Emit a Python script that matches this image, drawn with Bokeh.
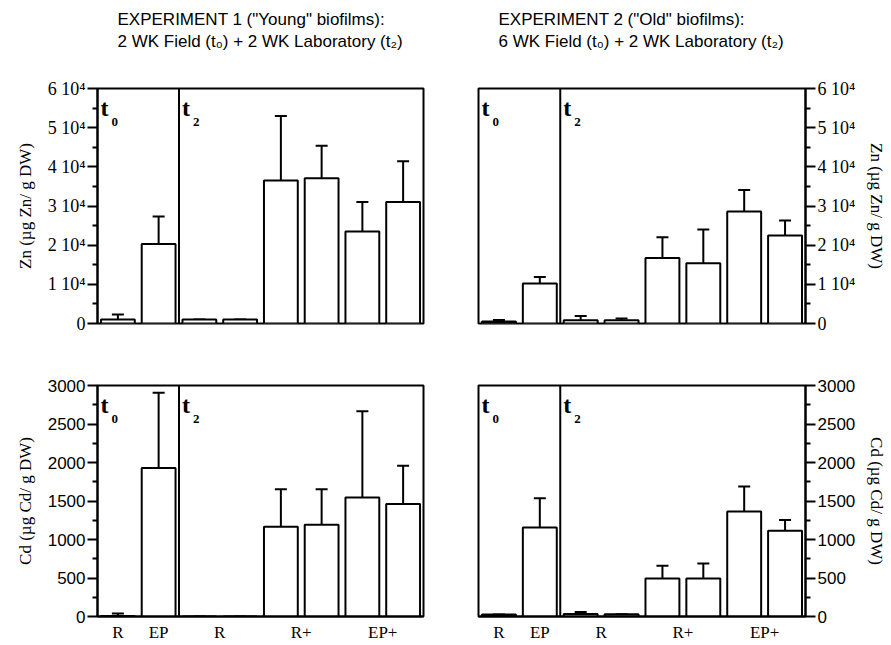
from bokeh.plotting import figure
from bokeh.models import ColumnDataSource, FixedTicker, Whisker, TeeHead, Span, Label, Title
from bokeh.layouts import column, row
from bokeh.embed import file_html
from bokeh.resources import INLINE

# ---- data ----
positions = [0.5, 1.5, 2.5, 3.5, 4.5, 5.5, 6.5, 7.5]
x_tick_pos = [0.5, 1.5, 3, 5, 7]
x_tick_labels = ["R", "EP", "R", "R+", "EP+"]

zn_exp1 = [1000, 20300, 1000, 1000, 36500, 37100, 23500, 31000]
zn_exp1_hi = [2300, 27300, 1000, 1000, 53000, 45400, 31000, 41400]
zn_exp2 = [500, 10200, 800, 800, 16700, 15400, 28600, 22500]
zn_exp2_hi = [900, 11900, 1900, 1300, 22000, 24000, 34100, 26300]
cd_exp1 = [5, 1930, 0, 0, 1166, 1191, 1544, 1460]
cd_exp1_hi = [40, 2907, 0, 0, 1653, 1653, 2664, 1959]
cd_exp2 = [25, 1156, 34, 30, 494, 494, 1363, 1114]
cd_exp2_hi = [25, 1536, 59, 30, 658, 688, 1688, 1253]

zn_ticks = [0, 10000, 20000, 30000, 40000, 50000, 60000]
zn_tick_labels = ["0", "1 10\u2074", "2 10\u2074", "3 10\u2074", "4 10\u2074", "5 10\u2074", "6 10\u2074"]
zn_minor = [5000, 15000, 25000, 35000, 45000, 55000]
cd_ticks = [0, 500, 1000, 1500, 2000, 2500, 3000]
cd_tick_labels = ["0", "500", "1000", "1500", "2000", "2500", "3000"]
cd_minor = [250, 750, 1250, 1750, 2250, 2750]

titles = {
    "exp1": ["EXPERIMENT 1 (\"Young\" biofilms):", "2 WK Field (t\u2080) + 2 WK Laboratory (t\u2082)"],
    "exp2": ["EXPERIMENT 2 (\"Old\" biofilms):", "6 WK Field (t\u2080) + 2 WK Laboratory (t\u2082)"],
}
zn_label = "Zn (\u00b5g Zn/ g DW)"
cd_label = "Cd (\u00b5g Cd/ g DW)"

SERIF = "Liberation Serif"
SANS = "Liberation Sans"


def make_panel(vals, hi, side, ymax, ticks, tick_labels, minor, tick_font, tick_size, ylabel,
               show_x, width, height, borders, title_lines=None):
    p = figure(width=width, height=height, x_range=(0, 8), y_range=(0, ymax),
               output_backend="svg", toolbar_location=None, tools="",
               y_axis_location=side, x_axis_location="below" if show_x else None)
    p.min_border_left, p.min_border_right, p.min_border_top, p.min_border_bottom = borders
    p.grid.visible = False
    p.outline_line_color = "black"
    p.outline_line_width = 2
    p.background_fill_color = "white"
    p.border_fill_color = "white"

    src = ColumnDataSource(dict(x=positions, val=vals, hi=hi))
    p.vbar(x="x", top="val", bottom=0, width=0.83, source=src,
           fill_color="white", line_color="black", line_width=2)
    p.add_layout(Whisker(base="x", lower="val", upper="hi", source=src,
                         line_color="black", line_width=2, lower_head=None,
                         upper_head=TeeHead(size=12, line_width=2, line_color="black")))
    p.add_layout(Span(location=2, dimension="height", line_color="black", line_width=2))

    for sx, sub in ((0, "0"), (2, "2")):
        p.add_layout(Label(x=sx, y=ymax, x_offset=3, y_offset=-19, text="t",
                           text_font=SERIF, text_font_style="bold", text_font_size="24px",
                           text_baseline="alphabetic", text_color="black"))
        p.add_layout(Label(x=sx, y=ymax, x_offset=14, y_offset=-33, text=sub,
                           text_font=SERIF, text_font_style="bold", text_font_size="13px",
                           text_baseline="alphabetic", text_color="black"))

    ax = p.yaxis[0]
    ax.ticker = FixedTicker(ticks=ticks, minor_ticks=minor)
    ax.major_label_overrides = dict(zip(ticks, tick_labels))
    ax.major_tick_out = 10
    ax.major_tick_in = 0
    ax.minor_tick_out = 5
    ax.minor_tick_in = 0
    ax.major_tick_line_width = 2
    ax.minor_tick_line_width = 2
    ax.axis_line_width = 2
    ax.major_label_text_font = tick_font
    ax.major_label_text_font_size = tick_size
    ax.major_label_text_color = "black"
    ax.major_label_standoff = 2
    ax.axis_label = ylabel
    ax.axis_label_text_font = SERIF
    ax.axis_label_text_font_size = "17px"
    ax.axis_label_text_font_style = "normal"
    ax.axis_label_text_color = "black"
    ax.axis_label_standoff = 10 if side == "left" else 9

    if show_x:
        xa = p.xaxis[0]
        xa.ticker = FixedTicker(ticks=x_tick_pos, minor_ticks=[])
        xa.major_label_overrides = dict(zip(x_tick_pos, x_tick_labels))
        xa.major_tick_line_color = None
        xa.minor_tick_line_color = None
        xa.axis_line_width = 2
        xa.major_label_text_font = SERIF
        xa.major_label_text_font_size = "17px"
        xa.major_label_text_color = "black"
        xa.major_label_standoff = 0

    if title_lines:
        p.title.visible = False
        p.add_layout(Title(text=" ", text_font_size="18px"), "above")
        p.add_layout(Title(text=title_lines[0] + "\n" + title_lines[1], align="left", offset=20,
                           text_font=SANS, text_font_size="17px", text_font_style="normal",
                           text_line_height=1.2, text_color="black"), "above")
    return p


p1 = make_panel(zn_exp1, zn_exp1_hi, "left", 60000, zn_ticks, zn_tick_labels, zn_minor, SERIF, "18px",
                zn_label, False, 450, 353, (97, 27, 88, 30), titles["exp1"])
p2 = make_panel(zn_exp2, zn_exp2_hi, "right", 60000, zn_ticks, zn_tick_labels, zn_minor, SERIF, "18px",
                zn_label, False, 441, 353, (28, 86, 88, 30), titles["exp2"])
p3 = make_panel(cd_exp1, cd_exp1_hi, "left", 3000, cd_ticks, cd_tick_labels, cd_minor, SANS, "17px",
                cd_label, True, 450, 291, (97, 27, 32, 25))
p4 = make_panel(cd_exp2, cd_exp2_hi, "right", 3000, cd_ticks, cd_tick_labels, cd_minor, SANS, "17px",
                cd_label, True, 441, 291, (28, 86, 32, 25))

layout = column(row(p1, p2), row(p3, p4))
open("out.html", "w").write(file_html(layout, INLINE))
